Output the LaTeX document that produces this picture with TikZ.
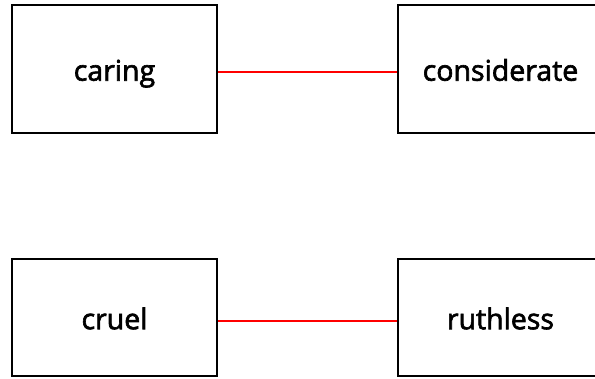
\documentclass[tikz,border=0pt]{standalone}
\usepackage{fontspec}
\setmainfont{Open Sans}
\newfontfamily\wordfont[FakeBold=2.2]{Open Sans}
\begin{document}
\begin{tikzpicture}[x=1pt,y=1pt,
  wordbox/.style={draw=black,line width=2.6pt,minimum width=205pt,inner sep=0pt,text height=28pt,text depth=4.6pt,font=\wordfont\fontsize{28.5}{30}\selectfont},
  link/.style={draw=red,line width=1.5pt}]
\useasboundingbox (0,0) rectangle (595,378);
\node[wordbox,minimum height=128pt] (caring) at (114.5,309) {caring};
\node[wordbox,minimum height=128pt] (considerate) at (500.5,309) {considerate};
\node[wordbox,minimum height=117pt] (cruel) at (114.5,60.5) {cruel};
\node[wordbox,minimum height=117pt] (ruthless) at (500.5,60.5) {ruthless};
\draw[link] ([yshift=-3pt]caring.east) -- ([yshift=-3pt]considerate.west);
\draw[link] ([yshift=-3.5pt]cruel.east) -- ([yshift=-3.5pt]ruthless.west);
\end{tikzpicture}
\end{document}
